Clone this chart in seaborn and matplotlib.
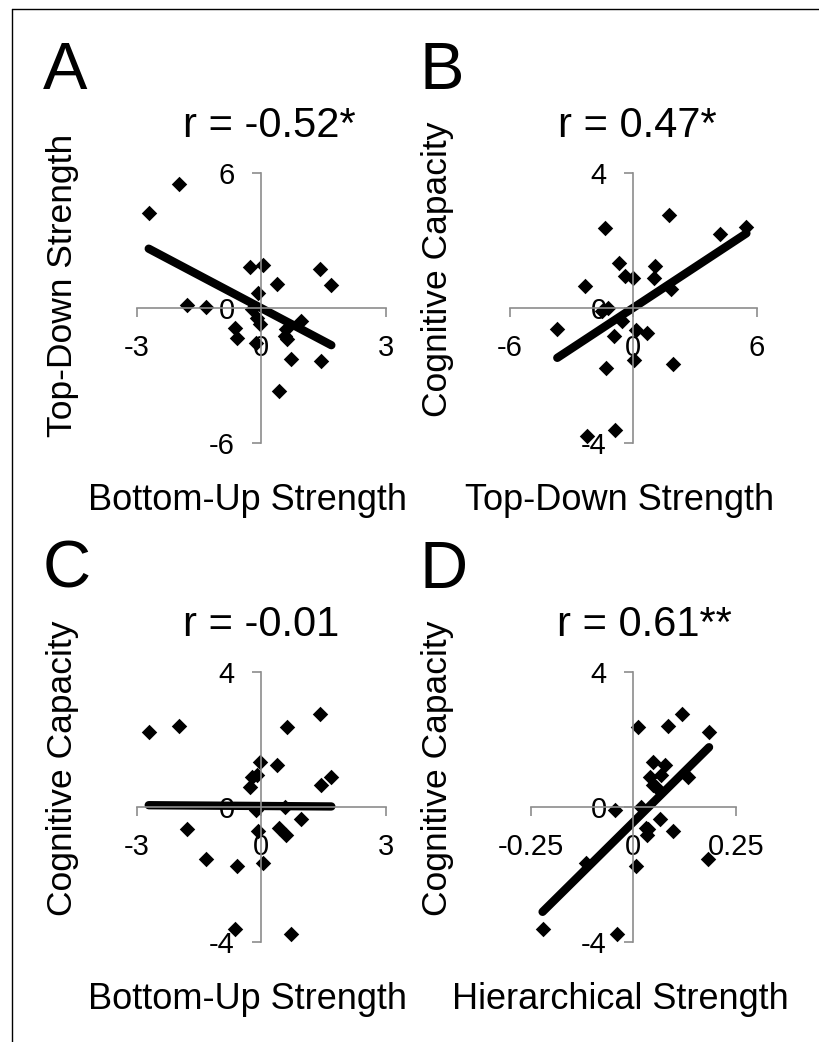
import matplotlib
matplotlib.use("Agg")
import matplotlib.pyplot as plt
import seaborn as sns
from matplotlib.lines import Line2D

# valores por sujeto (n = 23)
bottom_up = [-2.71, -1.99, 0.62, 1.42, -0.03, 0.38, 1.69, -0.23, -0.11, -0.26, 1.45, -0.13,
             0.58, 0.96, -1.79, -0.08, 0.42, 0.60, -1.33, -0.58, 0.05, -0.63, 0.71]
top_down = [4.22, 5.50, -1.37, 1.72, -0.71, 1.07, 1.00, -0.03, -0.43, 1.84, -2.33, -1.53,
            -1.22, -0.56, 0.15, 0.65, -3.70, -0.95, 0.05, -1.31, 1.92, -0.88, -2.26]
cognitive = [2.20, 2.40, 2.37, 2.75, 1.33, 1.25, 0.88, 0.88, 0.94, 0.57, 0.64, -0.10,
             -0.01, -0.37, -0.66, -0.73, -0.62, -0.84, -1.54, -1.77, -1.67, -3.62, -3.78]
hierarchical = [0.185, 0.085, 0.012, 0.118, 0.049, 0.077, 0.134, 0.041, 0.069, 0.055, 0.048, -0.045,
                0.020, 0.065, 0.037, 0.096, 0.030, 0.033, 0.183, 0.006, -0.114, -0.221, -0.040]

letters = ["A", "B", "C", "D"]
titles = ["r = -0.52*", "r = 0.47*", "r = -0.01", "r = 0.61**"]
xlabels = ["Bottom-Up Strength", "Top-Down Strength", "Bottom-Up Strength", "Hierarchical Strength"]
ylabels = ["Top-Down Strength", "Cognitive Capacity", "Cognitive Capacity", "Cognitive Capacity"]
ticks_bu = [-3, 0, 3]
ticks_td = [-6, 0, 6]
ticks_cog = [-4, 0, 4]
ticks_h = [-0.25, 0, 0.25]
ticklabels_bu = ["-3", "0", "3"]
ticklabels_td = ["-6", "0", "6"]
ticklabels_cog = ["-4", "0", "4"]
ticklabels_h = ["-0.25", "0", "0.25"]

W, H = 819, 1042
GRIS = "#8c8c8c"


def fx(px):
    return px / W


def fy(py):
    return 1 - py / H


sns.set_style("white")
plt.rcParams["font.family"] = ["Liberation Sans", "DejaVu Sans"]
plt.rcParams["axes.unicode_minus"] = False
plt.rcParams["text.color"] = "black"

fig = plt.figure(figsize=(W / 100, H / 100), dpi=100)

paneles = [
    # x, y, xticks, xtl, yticks, ytl, (izq, arriba, der, abajo) en px
    (bottom_up, top_down, ticks_bu, ticklabels_bu, ticks_td, ticklabels_td, (136.7, 172.7, 385.7, 443.3)),
    (top_down, cognitive, ticks_td, ticklabels_td, ticks_cog, ticklabels_cog, (510.0, 172.7, 756.7, 443.3)),
    (bottom_up, cognitive, ticks_bu, ticklabels_bu, ticks_cog, ticklabels_cog, (136.7, 671.7, 385.7, 941.7)),
    (hierarchical, cognitive, ticks_h, ticklabels_h, ticks_cog, ticklabels_cog, (530.7, 671.7, 735.7, 941.7)),
]

# posiciones de los textos (px)
pos_letra = [(43, 89), (420, 89), (43, 588), (420, 588)]
pos_titulo = [(183, 137), (558, 137), (183, 636), (557, 636)]
pos_ylab = [(63, 285), (437, 269), (63, 768), (437, 768)]
pos_xlab = [(247, 510), (620, 510), (247, 1009), (620, 1009)]

for i, (xs, ys, xt, xtl, yt, ytl, (l, t, r, b)) in enumerate(paneles):
    ax = fig.add_axes([fx(l), fy(b), (r - l) / W, (b - t) / H])
    sns.regplot(x=xs, y=ys, ax=ax, ci=None, truncate=True, marker="D",
                scatter_kws={"color": "black", "s": 62, "alpha": 1, "linewidths": 0, "clip_on": False},
                line_kws={"color": "black", "lw": 6, "solid_capstyle": "round"})
    ax.set_xlim(xt[0], xt[-1])
    ax.set_ylim(yt[0], yt[-1])
    ax.set_xticks(xt)
    ax.set_xticklabels(xtl)
    ax.set_yticks(yt)
    ax.set_yticklabels(ytl)
    ax.set_xlabel("")
    ax.set_ylabel("")
    ax.spines["left"].set_position(("data", 0))
    ax.spines["bottom"].set_position(("data", 0))
    ax.spines["top"].set_visible(False)
    ax.spines["right"].set_visible(False)
    for s in ("left", "bottom"):
        ax.spines[s].set_color(GRIS)
        ax.spines[s].set_linewidth(1.2)
    ax.tick_params(direction="out", length=6.5, width=1.2, color=GRIS,
                   labelsize=21, labelcolor="black", pad=12.5,
                   left=True, bottom=True)
    ax.patch.set_alpha(0)

    fig.text(fx(pos_letra[i][0]), fy(pos_letra[i][1]), letters[i], fontsize=48,
             color="black", ha="left", va="baseline")
    fig.text(fx(pos_titulo[i][0]), fy(pos_titulo[i][1]), titles[i], fontsize=30,
             color="black", ha="left", va="baseline")
    fig.text(fx(pos_ylab[i][0]), fy(pos_ylab[i][1]), ylabels[i], fontsize=25.5,
             color="black", rotation=90, ha="center", va="center")
    fig.text(fx(pos_xlab[i][0]), fy(pos_xlab[i][1]), xlabels[i], fontsize=26,
             color="black", ha="center", va="baseline")

# marco (solo borde superior e izquierdo visibles en el recorte)
fig.add_artist(Line2D([fx(11.7), 1], [fy(9.3), fy(9.3)], color="black", lw=1))
fig.add_artist(Line2D([fx(11.7), fx(11.7)], [fy(9.3), 0], color="black", lw=1))

fig.savefig("out.png", dpi=100)
